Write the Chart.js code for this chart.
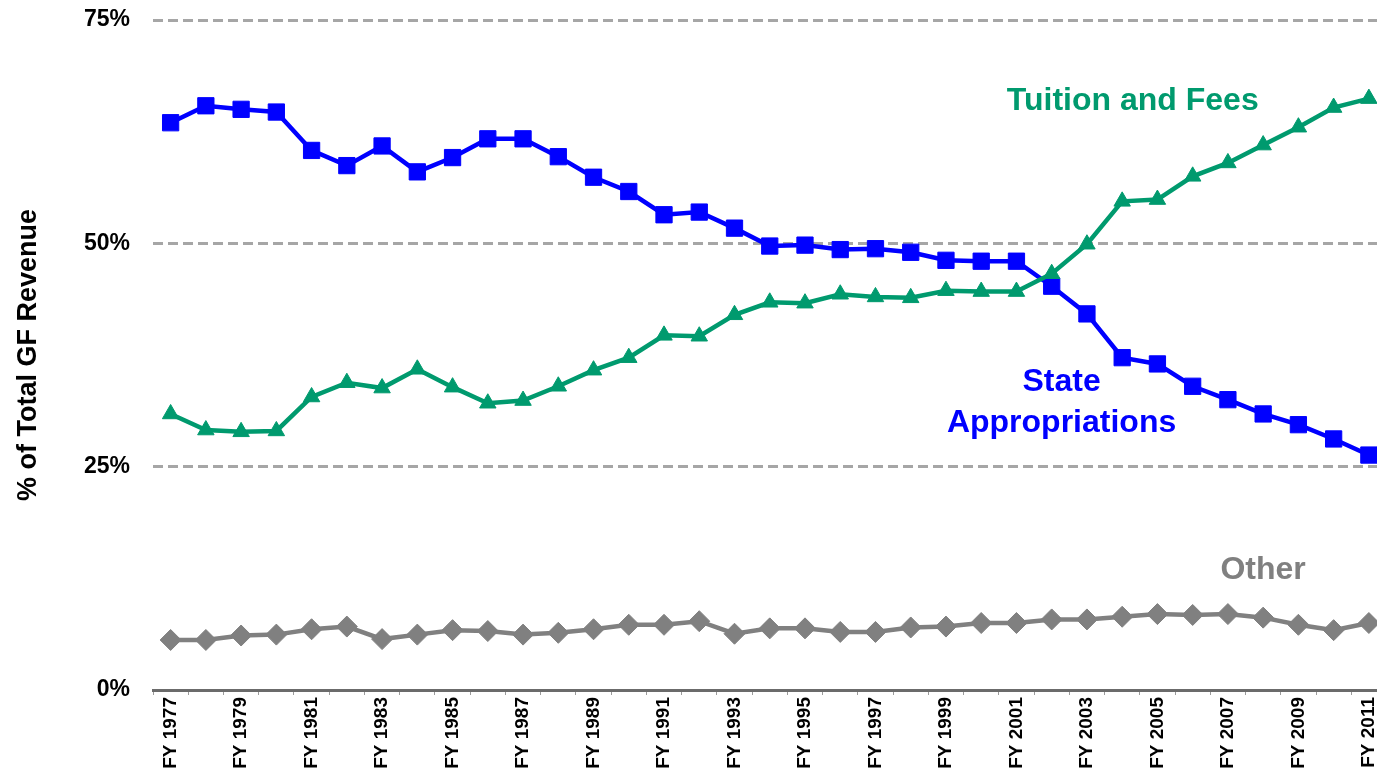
<!DOCTYPE html>
<html>
<head>
<meta charset="utf-8">
<script src="https://cdn.jsdelivr.net/npm/chart.js@4.4.0/dist/chart.umd.min.js"></script>
<style>
  html, body { margin: 0; padding: 0; background: #fff; overflow: hidden; }
  #wrap { position: relative; width: 1399px; height: 778px; }
</style>
</head>
<body>
<div id="wrap"><canvas id="revenue-chart"></canvas></div>
<script>
const years = [
  'FY 1977', 'FY 1978', 'FY 1979', 'FY 1980', 'FY 1981', 'FY 1982', 'FY 1983', 'FY 1984',
  'FY 1985', 'FY 1986', 'FY 1987', 'FY 1988', 'FY 1989', 'FY 1990', 'FY 1991', 'FY 1992',
  'FY 1993', 'FY 1994', 'FY 1995', 'FY 1996', 'FY 1997', 'FY 1998', 'FY 1999', 'FY 2000',
  'FY 2001', 'FY 2002', 'FY 2003', 'FY 2004', 'FY 2005', 'FY 2006', 'FY 2007', 'FY 2008',
  'FY 2009', 'FY 2010', 'FY 2011',
];

const stateApprop = [
  63.5, 65.4, 65.0, 64.7, 60.4, 58.7, 60.9, 58.0, 59.6, 61.7, 61.7, 59.7, 57.4, 55.8, 53.2, 53.5,
  51.7, 49.7, 49.8, 49.3, 49.4, 49.0, 48.1, 48.0, 48.0, 45.2, 42.1, 37.2, 36.5, 34.0, 32.5, 30.9,
  29.7, 28.1, 26.3,
];

const tuitionFees = [
  30.9, 29.1, 28.9, 29.0, 32.8, 34.4, 33.8, 35.9, 33.9, 32.1, 32.4, 34.0, 35.8, 37.2, 39.7, 39.6,
  42.0, 43.4, 43.3, 44.3, 44.0, 43.9, 44.7, 44.6, 44.6, 46.6, 49.9, 54.7, 54.9, 57.5, 59.0, 61.0,
  63.0, 65.2, 66.2,
];

const other = [
  5.6, 5.6, 6.1, 6.2, 6.8, 7.1, 5.7, 6.2, 6.7, 6.6, 6.2, 6.4, 6.8, 7.3, 7.3, 7.7,
  6.3, 6.9, 6.9, 6.5, 6.5, 7.0, 7.1, 7.5, 7.5, 7.9, 7.9, 8.2, 8.5, 8.4, 8.5, 8.1,
  7.3, 6.7, 7.5,
];

const yTicks = [0, 25, 50, 75];

// in-chart series names: text, category position, value position
const noteText = ['Tuition and Fees', 'State', 'Appropriations', 'Other'];
const noteIdx = [27.3, 25.28, 25.28, 31.0];
const noteVal = [65.9, 34.5, 29.9, 13.4];

const colors = {
  state: '#0000ff',
  tuition: '#009a6e',
  other: '#808080',
  grid: '#a6a6a6',
  axis: '#6b6b6b',
};
const noteColor = [colors.tuition, colors.state, colors.state, colors.other];

Chart.defaults.font.family = '"Liberation Sans", Arial, sans-serif';
Chart.defaults.color = '#000';

const notesPlugin = {
  id: 'notes',
  afterDatasetsDraw(chart) {
    const { ctx, scales: { x, y } } = chart;
    ctx.save();
    ctx.font = 'bold 32px "Liberation Sans", Arial, sans-serif';
    ctx.textAlign = 'center';
    ctx.textBaseline = 'middle';
    noteText.forEach((t, i) => {
      ctx.fillStyle = noteColor[i];
      ctx.fillText(t, x.getPixelForValue(noteIdx[i]), y.getPixelForValue(noteVal[i]));
    });
    ctx.restore();
  },
};

const lineSet = (label, data, color, style, radius) => ({
  label,
  data,
  borderColor: color,
  backgroundColor: color,
  borderWidth: 4.5,
  pointStyle: style,
  pointRadius: radius,
  pointBorderWidth: 1,
  pointBackgroundColor: color,
  pointBorderColor: color,
  tension: 0,
});

const noEdgePadding = (scale) => {
  scale.paddingTop = 0;
  scale.paddingBottom = 0;
  scale.paddingLeft = 0;
  scale.paddingRight = 0;
};

new Chart(document.getElementById('revenue-chart'), {
  type: 'line',
  data: {
    labels: years,
    datasets: [
      lineSet('Other', other, colors.other, 'rectRot', 10.5),
      lineSet('Tuition and Fees', tuitionFees, colors.tuition, 'triangle', 9.5),
      lineSet('State Appropriations', stateApprop, colors.state, 'rect', 11.5),
    ],
  },
  options: {
    responsive: true,
    maintainAspectRatio: false,
    animation: false,
    devicePixelRatio: 1,
    layout: { padding: { top: 20, right: 0, bottom: 0, left: 0 } },
    plugins: {
      legend: { display: false },
      tooltip: { enabled: false },
    },
    scales: {
      x: {
        offset: true,
        afterFit: (scale) => { scale.height = 88; noEdgePadding(scale); },
        grid: { drawOnChartArea: false, drawTicks: true, tickLength: 5, offset: true, color: '#9a9a9a', lineWidth: 1 },
        border: { color: colors.axis, width: 3 },
        ticks: {
          autoSkip: false,
          maxRotation: 90,
          minRotation: 90,
          padding: 2,
          font: { size: 19, weight: 'bold' },
          callback: (value, index) => (index % 2 === 0 ? years[index] : ''),
        },
      },
      y: {
        min: yTicks[0],
        max: yTicks[yTicks.length - 1],
        afterFit: (scale) => { scale.width = 153; noEdgePadding(scale); },
        afterBuildTicks: (scale) => { scale.ticks = yTicks.map((v) => ({ value: v })); },
        grid: {
          drawTicks: false,
          lineWidth: 3,
          color: (ctx) => (ctx.tick && ctx.tick.value === 0 ? 'rgba(0,0,0,0)' : colors.grid),
        },
        border: { display: false, dash: [10, 5] },
        ticks: {
          padding: 23,
          font: { size: 23, weight: 'bold' },
          callback: (value) => value + '%',
        },
        title: {
          display: true,
          text: '% of Total GF Revenue',
          font: { size: 27, weight: 'bold' },
          padding: { top: 12, bottom: 0 },
        },
      },
    },
  },
  plugins: [notesPlugin],
});
</script>
</body>
</html>
